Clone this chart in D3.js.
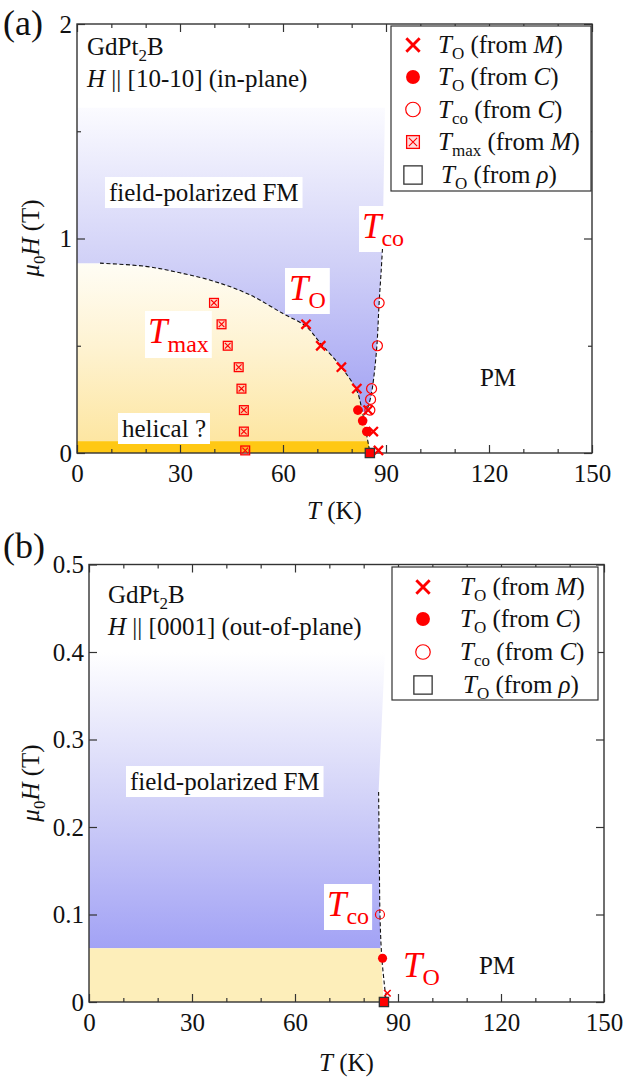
<!DOCTYPE html>
<html><head><meta charset="utf-8">
<script src="https://cdn.jsdelivr.net/npm/d3@7"></script>
<style>
body{margin:0;background:#fff}
svg{display:block}
text{font-family:"Liberation Serif","Times New Roman",serif;fill:#111}
</style>
</head><body>
<svg id="c" width="626" height="1082"></svg>
<script>
// ---------------- DATA ----------------
const xTicks = [0, 30, 60, 90, 120, 150];
const xMinor = [10, 20, 40, 50, 70, 80, 100, 110, 130, 140];
const yTicksA = [0, 1, 2];
const yMinorA = [0.5, 1.5];
const yTicksB = [0, 0.1, 0.2, 0.3, 0.4, 0.5];

// Panel (a): H || [10-10]
const toM_a  = [[66.7,0.6],[71.0,0.5],[77.0,0.4],[81.5,0.3],[84.8,0.2],[86.3,0.1],[87.8,0.012]];
const toC_a  = [[81.8,0.2],[83.2,0.15],[84.4,0.1]];
const tco_a  = [[88.0,0.7],[87.5,0.5],[85.8,0.3],[85.5,0.25],[85.3,0.2]];
const tmax_a = [[39.9,0.7],[42.1,0.6],[43.9,0.5],[47.1,0.4],[47.9,0.3],[48.6,0.2],[48.6,0.1],[49.0,0.012]];
const rho_a  = [[85.3,0]];
// guide curves (a)
const dome_a = [[6.7,0.885],[20,0.87],[30,0.84],[40,0.80],[50,0.74],[60,0.65],[66.7,0.59],[71,0.51],[77,0.40],[81.5,0.29],[83,0.2],[84.2,0.1],[85,0.03],[85.4,0]];
const tcoLine_a = [[84.1,0.18],[85.4,0.25],[86.1,0.31],[87.3,0.49],[88,0.70],[88.6,0.85],[89,0.96]];
const fmTop_a = 1.61, fmRightTop_a = 89.7, helicalTop_a = 0.055, domeFlat_a = 0.885;

// Panel (b): H || [0001]
const toM_b = [[86.9,0.01]];
const toC_b = [[85.5,0.05]];
const tco_b = [[84.75,0.1]];
const rho_b = [[85.9,0]];
const dash_b = [[84.35,0.24],[84.55,0.17],[84.75,0.10],[85.3,0.05],[86.6,0.0]];
const fmTop_b = 0.40, fmBottom_b = 0.0615;
const fmEdge_b = [[86.2,0.40],[84.35,0.24],[84.55,0.17],[84.75,0.10],[84.9,0.0615]];
const yellowEdge_b = [[84.9,0.0615],[85.8,0]];

const RED = "#ff0000";
const svg = d3.select("#c");
const defs = svg.append("defs");

function grad(id, y1, y2, stops){
  const g = defs.append("linearGradient").attr("id",id)
    .attr("gradientUnits","userSpaceOnUse").attr("x1",0).attr("x2",0).attr("y1",y1).attr("y2",y2);
  stops.forEach(s=>g.append("stop").attr("offset",s[0]).attr("stop-color",s[1]));
}

function lineGen(x,y){ return d3.line().x(d=>x(d[0])).y(d=>y(d[1])).curve(d3.curveCatmullRom.alpha(0.5)); }
function cont(path){ return "L" + path.slice(1); }

function marker(g, type, cx, cy, s){
  s = s || 1;
  if(type==="cross"){
    const h = 4.6*s;
    g.append("path").attr("d",`M${cx-h},${cy-h}L${cx+h},${cy+h}M${cx+h},${cy-h}L${cx-h},${cy+h}`)
      .attr("stroke",RED).attr("stroke-width",2.3*Math.min(s,1.25)).attr("fill","none");
  } else if(type==="crossSmall"){
    const h = 3.3*s;
    g.append("path").attr("d",`M${cx-h},${cy-h}L${cx+h},${cy+h}M${cx+h},${cy-h}L${cx-h},${cy+h}`)
      .attr("stroke",RED).attr("stroke-width",1.6).attr("fill","none");
  } else if(type==="dot"){
    g.append("circle").attr("cx",cx).attr("cy",cy).attr("r",4.8*s).attr("fill",RED);
  } else if(type==="open"){
    g.append("circle").attr("cx",cx).attr("cy",cy).attr("r",5.0*s).attr("fill","none").attr("stroke",RED).attr("stroke-width",1.2);
  } else if(type==="tmax"){
    const h = 4.4*s;
    g.append("rect").attr("x",cx-h).attr("y",cy-h).attr("width",2*h).attr("height",2*h)
      .attr("fill","rgba(255,120,120,0.25)").attr("stroke",RED).attr("stroke-width",1.3);
    const k = h*0.65;
    g.append("path").attr("d",`M${cx-k},${cy-k}L${cx+k},${cy+k}M${cx+k},${cy-k}L${cx-k},${cy+k}`)
      .attr("stroke",RED).attr("stroke-width",1.1);
  } else if(type==="rho"){
    const h = 4.6*s;
    g.append("rect").attr("x",cx-h).attr("y",cy-h).attr("width",2*h).attr("height",2*h)
      .attr("fill",RED).attr("stroke","#333").attr("stroke-width",1.3);
  } else if(type==="rhoLegend"){
    const h = 6.3*s;
    g.append("rect").attr("x",cx-h).attr("y",cy-h).attr("width",2*h).attr("height",2*h)
      .attr("fill","#fff").attr("stroke","#333").attr("stroke-width",1.3);
  }
}

function axes(g, x, y, yT, yM, yFmt){
  const [x0,x1] = x.range(), [y0,y1] = y.range();
  const style = sel => { sel.select(".domain").remove();
    sel.selectAll(".tick line").attr("stroke","#333").attr("stroke-width",1.2);
    sel.selectAll(".tick text").attr("font-size",25).attr("fill","#111")
      .style("font-family",'"Liberation Serif","Times New Roman",serif'); };
  g.append("g").attr("transform",`translate(0,${y0})`)
    .call(d3.axisBottom(x).tickValues(xTicks).tickSize(-8).tickSizeOuter(0).tickPadding(11).tickFormat(d3.format("d"))).call(style);
  g.append("g").attr("transform",`translate(0,${y0})`)
    .call(d3.axisBottom(x).tickValues(xMinor).tickSize(-4).tickSizeOuter(0).tickFormat("")).call(style);
  g.append("g").attr("transform",`translate(0,${y1})`)
    .call(d3.axisTop(x).tickValues(xTicks).tickSize(-8).tickSizeOuter(0).tickFormat("")).call(style);
  g.append("g").attr("transform",`translate(0,${y1})`)
    .call(d3.axisTop(x).tickValues(xMinor).tickSize(-4).tickSizeOuter(0).tickFormat("")).call(style);
  g.append("g").attr("transform",`translate(${x0},0)`)
    .call(d3.axisLeft(y).tickValues(yT).tickSize(-8).tickSizeOuter(0).tickPadding(5).tickFormat(yFmt)).call(style);
  g.append("g").attr("transform",`translate(${x1},0)`)
    .call(d3.axisRight(y).tickValues(yT).tickSize(-8).tickSizeOuter(0).tickFormat("")).call(style);
  if(yM.length){
    g.append("g").attr("transform",`translate(${x0},0)`)
      .call(d3.axisLeft(y).tickValues(yM).tickSize(-4).tickSizeOuter(0).tickFormat("")).call(style);
    g.append("g").attr("transform",`translate(${x1},0)`)
      .call(d3.axisRight(y).tickValues(yM).tickSize(-4).tickSizeOuter(0).tickFormat("")).call(style);
  }
  g.append("rect").attr("x",x0).attr("y",y1).attr("width",x1-x0).attr("height",y0-y1)
    .attr("fill","none").attr("stroke","#333").attr("stroke-width",1.4);
}

function subText(g, x, y, main, sub, size, subSize, dy, color, rest){
  const t = g.append("text").attr("x",x).attr("y",y).attr("font-size",size).style("fill",color||"#111");
  t.append("tspan").attr("font-style","italic").text(main);
  t.append("tspan").attr("font-size",subSize).attr("dy",dy).text(sub);
  if(rest){
    t.append("tspan").attr("dy",-dy).text(rest[0]);
    t.append("tspan").attr("font-style","italic").text(rest[1]);
    t.append("tspan").text(")");
  }
  return t;
}

function boxed(g, textSel, px, py){
  const b = textSel.node().getBBox();
  g.insert("rect", () => textSel.node()).attr("x",b.x-px).attr("y",b.y-py+1).attr("width",b.width+2*px).attr("height",b.height+2*py-2).attr("fill","#fff");
}

function titleText(g, x, y, dir){
  const t1 = g.append("text").attr("x",x).attr("y",y).attr("font-size",25);
  t1.append("tspan").text("GdPt");
  t1.append("tspan").attr("font-size",17).attr("dy",6).text("2");
  t1.append("tspan").attr("dy",-6).text("B");
  const t2 = g.append("text").attr("x",x).attr("y",y+32).attr("font-size",25);
  t2.append("tspan").attr("font-style","italic").text("H");
  t2.append("tspan").text(" || " + dir);
}

function yLabel(g, x, y){
  const t = g.append("text").attr("transform",`translate(${x},${y}) rotate(-90)`).attr("text-anchor","middle").attr("font-size",25);
  t.append("tspan").attr("font-style","italic").text("μ");
  t.append("tspan").attr("font-size",17).attr("dy",6).text("0");
  t.append("tspan").attr("dy",-6).attr("font-style","italic").text("H");
  t.append("tspan").text(" (T)");
}
function xLabel(g, x, y){
  const t = g.append("text").attr("x",x).attr("y",y).attr("text-anchor","middle").attr("font-size",25);
  t.append("tspan").attr("font-style","italic").text("T");
  t.append("tspan").text(" (K)");
}

function legend(g, x0, y0, w, h, rowY, entries, mx, tx){
  g.append("rect").attr("x",x0).attr("y",y0).attr("width",w).attr("height",h).attr("fill","#fff").attr("stroke","#333").attr("stroke-width",1.2);
  entries.forEach((e,i)=>{
    const cy = y0 + rowY[i];
    marker(g, e[0], mx, cy, 1.45);
    subText(g, tx + (e[0]==="rhoLegend"?3:0), cy+8, "T", e[1], 25, 17, 6, "#111", [" (from ", e[2]]);
  });
}

// ---------------- PANEL (a) ----------------
{
  const g = svg.append("g");
  const x = d3.scaleLinear().domain([0,150]).range([77,592]);
  const y = d3.scaleLinear().domain([0,2]).range([453,24]);
  const L = lineGen(x,y);
  grad("blueA", y(fmTop_a), y(0.15), [[0,"#fbfbff"],[0.5,"#d0d0f7"],[1,"#a0a0f3"]]);
  grad("yelA", y(domeFlat_a), y(helicalTop_a), [[0,"#fffdf5"],[0.5,"#fef2cf"],[1,"#fde6a2"]]);

  const yel = `M${x(0)},${y(0)}L${x(0)},${y(domeFlat_a)}` + cont(L(dome_a)) + "Z";
  g.append("path").attr("d",yel).attr("fill","url(#yelA)");
  g.append("path").attr("d",`M${x(0)},${y(0)}L${x(0)},${y(helicalTop_a)}L${x(84.8)},${y(helicalTop_a)}L${x(85.4)},${y(0)}Z`).attr("fill","#ffc814");
  const tcoRev = tcoLine_a.slice().reverse();
  const domeRev = dome_a.filter(d=>d[0]<=83).reverse();
  const blue = `M${x(0)},${y(fmTop_a)}L${x(fmRightTop_a)},${y(fmTop_a)}` + cont(L(tcoRev)) + cont(L(domeRev)) + `L${x(0)},${y(domeFlat_a)}Z`;
  g.append("path").attr("d",blue).attr("fill","url(#blueA)");

  const fp = g.append("text").attr("x",109).attr("y",201).attr("font-size",25).text("field-polarized FM");
  boxed(g, fp, 4, 3);
  const hl = g.append("text").attr("x",122).attr("y",437).attr("font-size",25).text("helical ?");
  boxed(g, hl, 4, 3);
  const l1 = subText(g, 362, 238, "T", "co", 35, 24, 8, RED); boxed(g, l1, 3, 2);
  const l2 = subText(g, 289, 300, "T", "O", 35, 24, 8, RED); boxed(g, l2, 4, 2);
  const l3 = subText(g, 148, 343, "T", "max", 35, 24, 9, RED); boxed(g, l3, 3, 2);

  g.append("path").attr("d",L(dome_a)).attr("fill","none").attr("stroke","#111").attr("stroke-width",1.1).attr("stroke-dasharray","4,2.5");
  g.append("path").attr("d",L(tcoLine_a)).attr("fill","none").attr("stroke","#111").attr("stroke-width",1.1).attr("stroke-dasharray","4,2.5");

  g.append("text").attr("x",498).attr("y",386).attr("text-anchor","middle").attr("font-size",25).text("PM");

  axes(g, x, y, yTicksA, yMinorA, d3.format("d"));

  tmax_a.forEach(d=>marker(g,"tmax",x(d[0]),y(d[1])));
  tco_a.forEach(d=>marker(g,"open",x(d[0]),y(d[1])));
  toC_a.forEach(d=>marker(g,"dot",x(d[0]),y(d[1])));
  toM_a.forEach(d=>marker(g,"cross",x(d[0]),y(d[1])));
  rho_a.forEach(d=>marker(g,"rho",x(d[0]),y(d[1])));

  titleText(g, 87, 55, "[10-10] (in-plane)");
  legend(g, 391, 26, 200, 165, [19,51,83.5,116,149],
    [["cross","O","M"],["dot","O","C"],["open","co","C"],["tmax","max","M"],["rhoLegend","O","ρ"]], 413, 438);

  yLabel(g, 39, 238);
  xLabel(g, 334.5, 519);
  g.append("text").attr("x",3).attr("y",35).attr("font-size",36).text("(a)");
}

// ---------------- PANEL (b) ----------------
{
  const g = svg.append("g");
  const x = d3.scaleLinear().domain([0,150]).range([89,604]);
  const y = d3.scaleLinear().domain([0,0.5]).range([1002,564.5]);
  const L = lineGen(x,y);
  grad("blueB", y(fmTop_b), y(fmBottom_b), [[0,"#ffffff"],[0.5,"#d2d2f8"],[1,"#a2a2f5"]]);

  const blue = `M${x(0)},${y(fmTop_b)}` + fmEdge_b.map(d=>`L${x(d[0])},${y(d[1])}`).join("") + `L${x(0)},${y(fmBottom_b)}Z`;
  g.append("path").attr("d",blue).attr("fill","url(#blueB)");
  const yel = `M${x(0)},${y(0)}L${x(0)},${y(fmBottom_b)}` + yellowEdge_b.map(d=>`L${x(d[0])},${y(d[1])}`).join("") + "Z";
  g.append("path").attr("d",yel).attr("fill","#fdeeba");

  const fp = g.append("text").attr("x",130).attr("y",790).attr("font-size",25).text("field-polarized FM");
  boxed(g, fp, 4, 3);
  const l1 = subText(g, 327, 916, "T", "co", 35, 24, 8, RED); boxed(g, l1, 3, 2);
  subText(g, 403, 977, "T", "O", 35, 24, 8, RED);

  g.append("path").attr("d",L(dash_b)).attr("fill","none").attr("stroke","#111").attr("stroke-width",1.1).attr("stroke-dasharray","4,2.5");

  g.append("text").attr("x",497).attr("y",974).attr("text-anchor","middle").attr("font-size",25).text("PM");

  axes(g, x, y, yTicksB, [], d=> d===0 ? "0" : d.toFixed(1));

  tco_b.forEach(d=>marker(g,"open",x(d[0]),y(d[1]),0.9));
  toC_b.forEach(d=>marker(g,"dot",x(d[0]),y(d[1]),0.95));
  toM_b.forEach(d=>marker(g,"crossSmall",x(d[0]),y(d[1])));
  rho_b.forEach(d=>marker(g,"rho",x(d[0]),y(d[1])));

  titleText(g, 108, 603, "[0001] (out-of-plane)");
  legend(g, 392, 567, 206, 133, [20,52,85,118],
    [["cross","O","M"],["dot","O","C"],["open","co","C"],["rhoLegend","O","ρ"]], 423, 460);

  yLabel(g, 39, 783);
  xLabel(g, 346.5, 1071);
  g.append("text").attr("x",3).attr("y",558).attr("font-size",36).text("(b)");
}
</script>
</body></html>
